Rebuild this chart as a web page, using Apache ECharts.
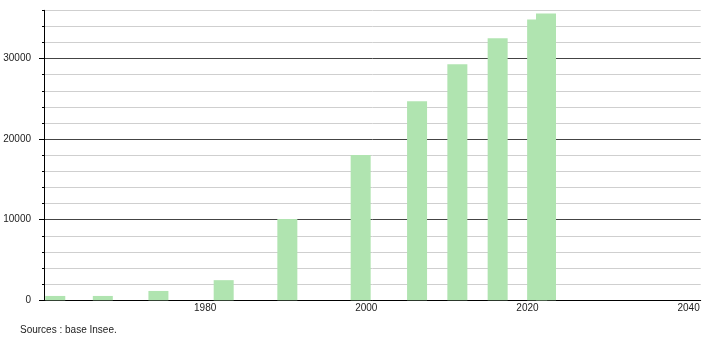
<!DOCTYPE html>
<html>
<head>
<meta charset="utf-8">
<script src="https://cdn.jsdelivr.net/npm/echarts@6/dist/echarts.min.js"></script>
<style>html,body{margin:0;padding:0;background:#fff}#c{width:710px;height:340px}</style>
</head>
<body>
<div id="c"></div>
<script>
// Census years as positioned in the picture
const years = [1961.4, 1967.3, 1974.2, 1982.3, 1990.2, 1999.3, 2006.3, 2011.3, 2016.3, 2021.2, 2022.3];
// Population
const population = [540, 540, 1160, 2500, 10090, 18050, 24700, 29300, 32540, 34870, 35600];
const xTickLabels = [1980, 2000, 2020, 2040];
const yTickLabels = [0, 10000, 20000, 30000];
const sourceText = 'Sources : base Insee.';

const FONT = '"Liberation Sans", Arial, sans-serif';
const chart = echarts.init(document.getElementById('c'), null, {renderer: 'canvas'});
chart.setOption({
  animation: false,
  backgroundColor: '#fff',
  textStyle: {fontFamily: FONT},
  title: {
    text: sourceText, left: 20, top: 325, padding: 0,
    textStyle: {fontSize: 10, fontWeight: 'normal', color: '#222', fontFamily: FONT}
  },
  grid: {left: 44, right: 9.3, top: 10.3, bottom: 39.7, containLabel: false},
  xAxis: {
    type: 'value', min: 1960, max: 2041.5, interval: 20,
    axisLine: {show: true, lineStyle: {color: '#000', width: 1}},
    axisTick: {show: false},
    splitLine: {show: false},
    axisLabel: {
      fontSize: 10, color: '#222', margin: 3, fontFamily: FONT,
      formatter: v => xTickLabels.indexOf(v) >= 0 ? String(v) : ''
    }
  },
  yAxis: [{
    type: 'value', min: 0, max: 36000, interval: 2000,
    axisLine: {show: true, lineStyle: {color: '#000', width: 1}},
    axisTick: {show: true, length: 2, lineStyle: {color: '#000'}},
    axisLabel: {
      fontSize: 10, color: '#222', margin: 13, fontFamily: FONT,
      formatter: v => yTickLabels.indexOf(v) >= 0 ? String(v) : ''
    },
    splitLine: {show: true, lineStyle: {color: ['#444', '#cfcfcf', '#cfcfcf', '#cfcfcf', '#cfcfcf'], width: 1}}
  }, {
    type: 'value', min: 0, max: 36000, interval: 10000, position: 'left',
    axisLine: {show: false},
    axisTick: {show: true, length: 5, lineStyle: {color: '#000'}, customValues: yTickLabels},
    axisLabel: {show: false},
    splitLine: {show: false}
  }],
  series: [{
    type: 'bar',
    yAxisIndex: 0,
    barWidth: 20,
    itemStyle: {color: '#b0e4b0'},
    data: years.map((y, i) => [y, population[i]])
  }]
});
</script>
</body>
</html>
